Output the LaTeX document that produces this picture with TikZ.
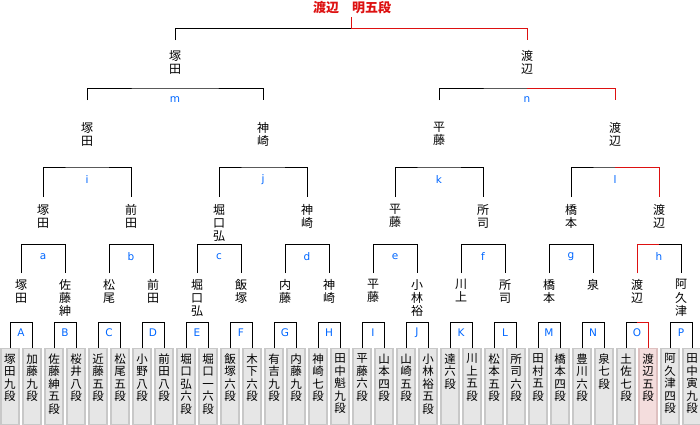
\documentclass[tikz,border=0pt]{standalone}
\usepackage{fontspec}
\setmainfont{Noto Sans CJK JP}
\newfontfamily\lblfont{DejaVu Sans}
\definecolor{wred}{RGB}{221,17,17}
\definecolor{lblblue}{RGB}{0,102,255}
\definecolor{boxfill}{RGB}{230,230,230}
\definecolor{boxline}{RGB}{200,200,200}
\definecolor{hifill}{RGB}{244,221,221}
\definecolor{hiline}{RGB}{222,192,192}
\tikzset{
  ln/.style={line width=1pt, draw=black},
  rd/.style={line width=1pt, draw=wred},
  box/.style={draw=boxline, fill=boxfill, line width=1.2pt, minimum width=18pt, minimum height=76pt, inner sep=0pt, anchor=north},
  hbox/.style={box, draw=hiline, fill=hifill},
  btxt/.style={font=\fontsize{11.5}{12.5}\selectfont, align=center, inner sep=0pt, anchor=north},
  nm/.style={font=\fontsize{12}{13.2}\selectfont, align=center, inner sep=0pt, anchor=north},
  lbl/.style={font=\lblfont\fontsize{10.5}{11}\selectfont, text=lblblue, inner sep=0pt},
  ttl/.style={font=\bfseries\fontsize{13}{14}\selectfont, text=wred, inner sep=0pt},
}
\begin{document}
\begin{tikzpicture}[x=1pt,y=-1pt]
\useasboundingbox (0,0) rectangle (700,424);
% player boxes
\foreach \n [count=\i from 0] in {
  {塚\\田\\九\\段},{加\\藤\\九\\段},{佐\\藤\\紳\\五\\段},{桜\\井\\八\\段},
  {近\\藤\\五\\段},{松\\尾\\五\\段},{小\\野\\八\\段},{前\\田\\八\\段},
  {堀\\口\\弘\\六\\段},{堀\\口\\一\\六\\段},{飯\\塚\\六\\段},{木\\下\\六\\段},
  {有\\吉\\九\\段},{内\\藤\\九\\段},{神\\崎\\七\\段},{田\\中\\魁\\九\\段},
  {平\\藤\\六\\段},{山\\本\\四\\段},{山\\崎\\五\\段},{小\\林\\裕\\五\\段},
  {達\\六\\段},{川\\上\\五\\段},{松\\本\\五\\段},{所\\司\\六\\段},
  {田\\村\\五\\段},{橋\\本\\四\\段},{豊\\川\\六\\段},{泉\\七\\段},
  {土\\佐\\七\\段},{渡\\辺\\五\\段},{阿\\久\\津\\四\\段},{田\\中\\寅\\九\\段}}{
  \ifnum\i=29
    \node[hbox] (p\i) at (10+22*\i, 347.5) {};
  \else
    \node[box] (p\i) at (10+22*\i, 347.5) {};
  \fi
  \node[btxt] (t\i) at (10+22*\i, 353.5) {\n};
}
% level 1 brackets A..P
\foreach \lab [count=\k from 0] in {A,B,C,D,E,F,G,H,I,J,K,L,M,N,O,P}{
  \pgfmathtruncatemacro\l{2*\k}
  \pgfmathtruncatemacro\r{2*\k+1}
  \coordinate (c1-\k) at (21+44*\k, 322.5);
  \draw[ln] (p\l.north) |- (c1-\k) -| (p\r.north);
  \node[lbl] (L1-\k) at (21+44*\k, 333) {\lab};
}
\draw[rd] (c1-14) -| (p29.north);
% level 1 winners
\foreach \n [count=\k from 0] in {
  {塚\\田},{佐\\藤\\紳},{松\\尾},{前\\田},{堀\\口\\弘},{飯\\塚},{内\\藤},{神\\崎},
  {平\\藤},{小\\林\\裕},{川\\上},{所\\司},{橋\\本},{泉},{渡\\辺},{阿\\久\\津}}{
  \node[nm] (w1-\k) at (21+44*\k, 279) {\n};
}
% level 2 brackets a..h
\foreach \lab [count=\k from 0] in {a,b,c,d,e,f,g,h}{
  \pgfmathtruncatemacro\l{2*\k}
  \pgfmathtruncatemacro\r{2*\k+1}
  \coordinate (c2-\k) at (43+88*\k, 244.5);
  \draw[ln] ([yshift=6pt]w1-\l.north) |- (c2-\k) -| ([yshift=6pt]w1-\r.north);
  \node[lbl] (L2-\k) at (43+88*\k, 257) {\lab};
}
\draw[rd] ([yshift=6pt]w1-14.north) |- (c2-7);
% level 2 winners
\foreach \n [count=\k from 0] in {
  {塚\\田},{前\\田},{堀\\口\\弘},{神\\崎},{平\\藤},{所\\司},{橋\\本},{渡\\辺}}{
  \node[nm] (w2-\k) at (43+88*\k, 204) {\n};
}
% level 3 brackets i..l
\foreach \lab [count=\k from 0] in {i,j,k,l}{
  \pgfmathtruncatemacro\l{2*\k}
  \pgfmathtruncatemacro\r{2*\k+1}
  \coordinate (c3-\k) at (87+176*\k, 167);
  \draw[ln] ([yshift=7pt]w2-\l.north) |- (c3-\k) -| ([yshift=7pt]w2-\r.north);
  \node[lbl] (L3-\k) at (87+176*\k, 180) {\lab};
}
\draw[rd] (c3-3) -| ([yshift=7pt]w2-7.north);
% level 3 winners
\foreach \n [count=\k from 0] in {{塚\\田},{神\\崎},{平\\藤},{渡\\辺}}{
  \node[nm] (w3-\k) at (87+176*\k, 122) {\n};
}
% level 4 brackets m, n
\foreach \lab [count=\k from 0] in {m,n}{
  \pgfmathtruncatemacro\l{2*\k}
  \pgfmathtruncatemacro\r{2*\k+1}
  \coordinate (c4-\k) at (175+352*\k, 88);
  \draw[ln] ([yshift=22pt]w3-\l.north) |- (c4-\k) -| ([yshift=22pt]w3-\r.north);
  \node[lbl] (L4-\k) at (175+352*\k, 100) {\lab};
}
\draw[rd] (c4-1) -| ([yshift=22pt]w3-3.north);
% level 4 winners
\node[nm] (w4-0) at (175, 50) {塚\\田};
\node[nm] (w4-1) at (527, 50) {渡\\辺};
% final
\coordinate (c5) at (351, 28);
\coordinate (top) at (351, 17);
\draw[ln] ([yshift=10pt]w4-0.north) |- (c5);
\draw[rd] (c5) -| ([yshift=10pt]w4-1.north);
\draw[rd] (c5) -- (top);
\node[ttl] (title) at (352, 8) {渡辺　明五段};
\end{tikzpicture}
\end{document}
